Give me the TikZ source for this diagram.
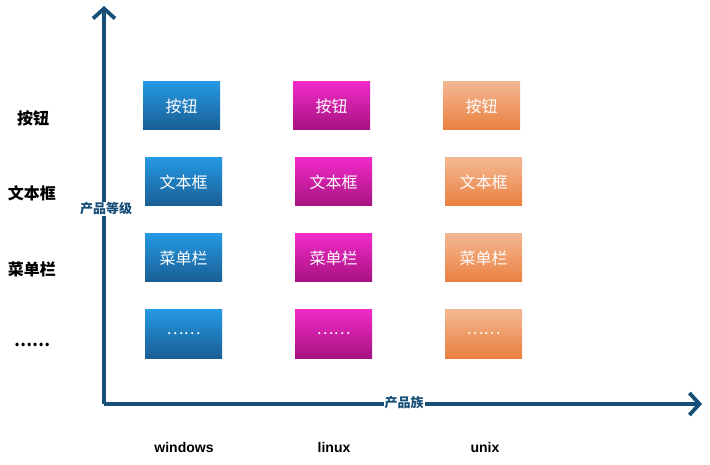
\documentclass[tikz,border=0pt]{standalone}
\usepackage{fontspec}
\setmainfont{Liberation Sans}
\newfontfamily\cjk{Noto Sans CJK SC}
\usetikzlibrary{arrows.meta}
\definecolor{axisc}{RGB}{22,78,120}
\definecolor{bluet}{RGB}{36,152,226}
\definecolor{blueb}{RGB}{26,94,148}
\definecolor{magt}{RGB}{240,42,200}
\definecolor{magb}{RGB}{166,18,128}
\definecolor{orat}{RGB}{243,183,145}
\definecolor{orab}{RGB}{234,128,64}
\tikzset{
  prod/.style={minimum width=77pt,minimum height=48pt,inner sep=0pt,text=white,font=\cjk\fontsize{16}{16}\selectfont},
  winbox/.style={prod,top color=bluet,bottom color=blueb},
  linbox/.style={prod,top color=magt,bottom color=magb},
  unibox/.style={prod,top color=orat,bottom color=orab},
  axis/.style={draw=axisc,line width=3.8pt,-{Straight Barb[length=10pt,width=22pt,line width=3.8pt]}},
  axlabel/.style={fill=white,text=axisc,inner sep=1pt,font=\cjk\bfseries\fontsize{13}{13}\selectfont},
  rowlabel/.style={font=\cjk\bfseries\fontsize{16}{16}\selectfont},
  collabel/.style={font=\bfseries\fontsize{14}{14}\selectfont}
}
\begin{document}
\begin{tikzpicture}[x=1pt,y=-1pt]
\useasboundingbox (0,0) rectangle (710,465);
\coordinate (o) at (104,404);
\coordinate (ytip) at (104,6);
\coordinate (xtip) at (702,404);
\draw[axis] (o) -- (ytip);
\draw[axis] (o) -- (xtip);
\node[axlabel] (ylab) at (106,209) {产品等级};
\node[axlabel] (xlab) at (404,403) {产品族};

\node[winbox] (w1) at (181.5,106) {按钮};
\node[winbox] (w2) at (183.5,182) {文本框};
\node[winbox] (w3) at (183.5,258) {菜单栏};
\node[winbox] (w4) at (183.5,334) {……};
\node[linbox] (l1) at (331.5,106) {按钮};
\node[linbox] (l2) at (333.5,182) {文本框};
\node[linbox] (l3) at (333.5,258) {菜单栏};
\node[linbox] (l4) at (333.5,334) {……};
\node[unibox] (u1) at (481.5,106) {按钮};
\node[unibox] (u2) at (483.5,182) {文本框};
\node[unibox] (u3) at (483.5,258) {菜单栏};
\node[unibox] (u4) at (483.5,334) {……};

\node[rowlabel] (r1) at (33,118) {按钮};
\node[rowlabel] (r2) at (32,193) {文本框};
\node[rowlabel] (r3) at (32,269) {菜单栏};
\node[rowlabel] (r4) at (32,345) {……};

\node[collabel] (c1) at (184,447) {windows};
\node[collabel] (c2) at (334,447) {linux};
\node[collabel] (c3) at (485,447) {unix};
\end{tikzpicture}
\end{document}
